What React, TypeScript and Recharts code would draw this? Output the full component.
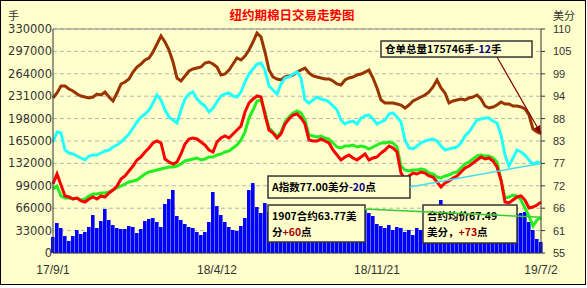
import React from 'react';
import {
  ComposedChart,
  Bar,
  Line,
  XAxis,
  YAxis,
  CartesianGrid,
  ReferenceLine,
  ReferenceArea,
} from 'recharts';

// x axis: one point per ~3 trading days, labels at these indices
const dateLabels = ['17/9/1', '18/4/12', '18/11/21', '19/7/2'];
const dateTickIdx = [0, 41, 81, 122];

const volumeTicks = [0, 33000, 66000, 99000, 132000, 165000, 198000, 231000, 264000, 297000, 330000];
const priceTicks = [55, 60.5, 66, 71.5, 77, 82.5, 88, 93.5, 99, 104.5, 110];

// 成交量 (手)
const volume = [
  23600, 44200, 36800, 25000, 17700, 25000, 33900, 28000, 30900, 38300,
  56000, 36800, 47100, 64800, 48600, 41200, 36800, 35400, 35400, 39800,
  38300, 29500, 35400, 47100, 50100, 51600, 45700, 38300, 72200, 79600,
  92800, 54500, 48600, 42700, 38300, 36800, 30900, 26500, 30900, 45700,
  89900, 69200, 56000, 45700, 38300, 33900, 32400, 39800, 51600, 92800,
  103100, 67800, 58900, 73700, 60400, 51600, 57500, 48600, 39800, 45700,
  54500, 63300, 70700, 56000, 47100, 39800, 42700, 51600, 60400, 48600,
  38300, 42700, 54500, 47100, 36800, 41200, 50100, 57500, 63300, 58900,
  54500, 42700, 39800, 36800, 41200, 33900, 38300, 36800, 30900, 33900,
  26500, 36800, 33900, 39800, 36800, 42700, 45700, 78100, 45700, 39800,
  36800, 41200, 42700, 38300, 45700, 42700, 39800, 45700, 50100, 42700,
  41200, 47100, 53000, 57500, 56000, 60400, 57500, 58900, 60400, 45700,
  33900, 20600, 16200,
];

// 仓单总量 (手)
const stocks = [
  228300, 235700, 246000, 246000, 241600, 238700, 234200, 231300, 229800, 228300,
  229800, 234200, 232800, 237200, 229800, 223900, 235700, 249000, 251900, 256300,
  266600, 274000, 278400, 284300, 287300, 296100, 307900, 319700, 310800, 299100,
  281400, 257800, 253400, 260800, 268100, 271100, 272500, 274000, 279900, 281400,
  278400, 274000, 262200, 263700, 269600, 278400, 287300, 284300, 290200, 299100,
  310800, 324100, 318200, 296100, 269600, 259300, 256300, 254900, 259300, 260800,
  262200, 266600, 269600, 272500, 265200, 260800, 259300, 257800, 256300, 256300,
  253400, 249000, 247500, 254900, 257800, 259300, 262200, 263700, 266600, 269600,
  257800, 243100, 225400, 221000, 221000, 221000, 219500, 218000, 213600, 218000,
  223900, 226900, 229800, 232800, 237200, 244600, 254900, 243100, 235700, 221000,
  223900, 225400, 226900, 225400, 228300, 229800, 232800, 226900, 216600, 213600,
  215100, 218000, 222500, 219500, 219500, 216600, 216600, 215100, 212100, 203300,
  182700, 178300, 175746,
];

// A指数 (美分)
const indexA = [
  82.25, 84.71, 84.46, 80.29, 79.55, 79.31, 78.82, 78.33, 77.84, 78.82,
  79.06, 79.06, 79.55, 80.05, 80.29, 81.03, 81.52, 82.25, 83.24, 84.22,
  85.69, 87.17, 88.39, 89.13, 90.11, 91.83, 93.8, 92.57, 90.11, 88.39,
  87.66, 86.92, 90.11, 92.81, 94.04, 94.53, 92.81, 91.83, 91.09, 89.62,
  90.6, 92.08, 93.55, 94.04, 94.29, 93.55, 93.3, 94.53, 96.99, 98.95,
  100.18, 101.41, 101.65, 99.93, 96.01, 95.02, 94.04, 96.5, 97.97, 98.22,
  98.95, 99.44, 97.97, 92.57, 91.83, 92.57, 93.3, 92.81, 92.57, 92.08,
  91.09, 90.11, 87.66, 86.67, 87.17, 87.41, 86.67, 88.15, 88.64, 88.88,
  87.9, 86.67, 87.17, 87.66, 89.13, 89.38, 88.39, 87.17, 82.75, 80.78,
  80.54, 81.27, 82.01, 82.5, 82.75, 82.99, 82.5, 81.27, 80.29, 80.54,
  80.78, 81.03, 82.01, 83.73, 84.71, 86.18, 87.66, 87.9, 88.15, 88.15,
  87.41, 86.92, 83.97, 79.06, 76.36, 78.33, 80.29, 79.8, 79.06, 77.84,
  76.85, 77.34, 77.0,
];

// 合约均价 (美分)
const avgPrice = [
  71.94, 74.4, 71.7, 69.0, 68.75, 68.26, 68.5, 67.77, 67.52, 68.26,
  68.75, 68.26, 69.0, 68.75, 69.73, 70.47, 71.45, 73.17, 73.91, 75.13,
  76.36, 77.84, 78.57, 79.8, 80.78, 82.01, 82.5, 82.01, 78.08, 77.34,
  76.85, 77.34, 79.31, 81.76, 82.99, 83.24, 82.99, 82.25, 81.52, 80.29,
  79.8, 82.25, 83.24, 83.73, 83.24, 84.22, 85.2, 86.18, 89.62, 91.83,
  92.81, 93.55, 93.3, 88.88, 85.2, 84.46, 83.24, 84.22, 86.67, 87.9,
  88.88, 89.13, 88.15, 86.67, 82.75, 82.5, 82.5, 82.99, 82.5, 82.01,
  80.29, 79.06, 77.84, 78.57, 79.06, 78.33, 77.84, 78.57, 79.31, 77.84,
  78.33, 78.57, 79.55, 80.29, 81.27, 80.78, 79.8, 74.64, 73.17, 73.91,
  74.64, 74.4, 74.89, 74.64, 73.91, 73.66, 72.43, 71.21, 72.19, 72.68,
  73.42, 73.91, 74.89, 75.87, 76.36, 77.1, 77.84, 78.57, 78.08, 78.33,
  77.59, 76.12, 72.92, 67.52, 67.28, 68.01, 68.75, 69.0, 68.01, 66.05,
  66.29, 66.79, 67.49,
];

// 1907合约 (美分)
const contract1907 = [
  70.71, 71.45, 69.0, 68.5, 68.5, 68.26, 68.5, 68.01, 68.26, 69.0,
  69.49, 69.49, 69.73, 69.73, 69.98, 70.47, 70.96, 71.45, 71.94, 72.43,
  72.68, 72.92, 73.66, 74.4, 74.89, 75.13, 75.38, 75.63, 75.87, 76.12,
  76.12, 76.36, 76.85, 77.59, 77.84, 78.08, 78.33, 77.84, 78.08, 78.57,
  78.57, 79.06, 79.31, 79.8, 80.05, 80.78, 81.52, 82.75, 84.71, 88.15,
  90.11, 92.32, 92.57, 89.62, 85.69, 84.71, 83.48, 84.71, 87.17, 88.39,
  89.38, 89.87, 89.38, 87.66, 83.97, 83.73, 83.48, 83.73, 83.24, 82.99,
  82.01, 81.03, 80.78, 81.27, 81.27, 81.52, 81.03, 81.27, 81.03, 80.54,
  81.03, 81.52, 82.01, 82.01, 82.25, 82.01, 81.03, 76.36, 75.38, 75.13,
  75.38, 75.38, 75.63, 75.38, 74.64, 74.4, 73.66, 73.42, 73.91, 74.15,
  74.64, 74.89, 75.87, 76.85, 77.34, 78.08, 78.82, 79.06, 78.82, 78.82,
  78.33, 77.34, 72.92, 68.5, 68.75, 69.24, 69.0, 68.01, 66.05, 64.08,
  61.63, 63.1, 63.77,
];

const rows = volume.map((v, i) => ({
  i,
  volume: v,
  stocks: stocks[i],
  indexA: indexA[i],
  avgPrice: avgPrice[i],
  c1907: contract1907[i],
}));

const last = rows.length - 1;

type Seg = { t: string; c: string };

const BLACK = '#000';
const NAVY = '#000080';
const DARKRED = '#aa0000';
const CJK = '"Noto Sans CJK SC", sans-serif';

function noteShape(lines: Seg[][]) {
  return (props: any) => {
    const { x, y, width, height } = props;
    return (
      <g>
        <rect x={x} y={y} width={width} height={height} fill="#ffffcc" stroke="#333" strokeWidth={1.5} />
        {lines.map((segs, k) => (
          <text
            key={k}
            x={x + 4}
            y={lines.length === 1 ? y + height / 2 + 4 : y + 15 + k * 15.5}
            fontSize={10.5}
            fontWeight="bold"
            fontFamily={CJK}
          >
            {segs.map((s, j) => (
              <tspan key={j} fill={s.c}>
                {s.t}
              </tspan>
            ))}
          </text>
        ))}
      </g>
    );
  };
}

function ArrowLine(props: any) {
  const { x1, y1, x2, y2 } = props;
  const a = Math.atan2(y2 - y1, x2 - x1);
  const len = 8;
  const w = 3.5;
  const bx = x2 - len * Math.cos(a);
  const by = y2 - len * Math.sin(a);
  const pts = [
    `${x2},${y2}`,
    `${bx + w * Math.sin(a)},${by - w * Math.cos(a)}`,
    `${bx - w * Math.sin(a)},${by + w * Math.cos(a)}`,
  ].join(' ');
  return (
    <g>
      <line x1={x1} y1={y1} x2={bx} y2={by} stroke="#800000" strokeWidth={1.2} />
      <polygon points={pts} fill="#800000" />
    </g>
  );
}

const tickFont = { fontSize: 11.5, fill: '#333', fontFamily: '"DejaVu Sans", sans-serif' };

export default function App() {
  return (
    <div
      style={{
        position: 'absolute',
        left: 0,
        top: 0,
        width: 587,
        height: 288,
        background: '#fff',
        overflow: 'hidden',
      }}
    >
      <div
        style={{
          position: 'absolute',
          left: 0,
          top: 0,
          width: 584,
          height: 283,
          border: '1px solid #000',
          background: '#ffffcc',
        }}
      />
      <div
        style={{
          position: 'absolute',
          left: 0,
          top: 8,
          width: 584,
          textAlign: 'center',
          color: '#ff0000',
          fontFamily: CJK,
          fontWeight: 'bold',
          fontSize: 12.5,
          lineHeight: '14px',
        }}
      >
        纽约期棉日交易走势图
      </div>
      <div
        style={{
          position: 'absolute',
          left: 8,
          top: 8,
          color: '#333',
          fontFamily: CJK,
          fontSize: 11,
          lineHeight: '14px',
        }}
      >
        手
      </div>
      <div
        style={{
          position: 'absolute',
          left: 553,
          top: 8,
          color: '#333',
          fontFamily: CJK,
          fontSize: 11,
          lineHeight: '14px',
        }}
      >
        美分
      </div>
      <div style={{ position: 'absolute', left: 0, top: 0 }}>
        <ComposedChart width={587} height={288} data={rows} margin={{ top: 29, right: 0, bottom: 0, left: 0 }}>
          <CartesianGrid yAxisId="left" vertical={false} stroke="#b4b4b4" strokeDasharray="4 3" />
          <XAxis
            dataKey="i"
            type="number"
            domain={[0, last]}
            ticks={dateTickIdx}
            tickFormatter={(v: number) => dateLabels[dateTickIdx.indexOf(v)] ?? ''}
            height={35}
            tickLine={false}
            tickSize={0}
            tickMargin={12}
            axisLine={{ stroke: '#333' }}
            tick={{ fontSize: 12, fill: '#333', fontFamily: '"Liberation Sans", sans-serif' }}
          />
          <YAxis
            yAxisId="left"
            orientation="left"
            width={53}
            domain={[0, 330000]}
            ticks={volumeTicks}
            interval={0}
            tickLine={false}
            tickSize={0}
            tickMargin={1}
            axisLine={{ stroke: '#333' }}
            tick={tickFont}
          />
          <YAxis
            yAxisId="right"
            orientation="right"
            width={46}
            domain={[55, 110]}
            ticks={priceTicks}
            interval={0}
            tickFormatter={(v: number) => String(Math.round(v))}
            tickSize={4}
            tickMargin={8}
            tickLine={{ stroke: '#333' }}
            axisLine={{ stroke: '#333' }}
            tick={{ fontSize: 11, fill: '#333', fontFamily: '"Liberation Sans", sans-serif' }}
          />
          <ReferenceLine yAxisId="left" y={330000} stroke="#888" />
          <Bar yAxisId="left" dataKey="volume" fill="#0000ff" barSize={5} isAnimationActive={false} />
          <Line
            yAxisId="left"
            dataKey="stocks"
            stroke="#993300"
            strokeWidth={3}
            dot={false}
            type="linear"
            isAnimationActive={false}
          />
          <Line
            yAxisId="right"
            dataKey="indexA"
            stroke="#22ffff"
            strokeWidth={3}
            dot={false}
            type="linear"
            isAnimationActive={false}
          />
          <Line
            yAxisId="right"
            dataKey="c1907"
            stroke="#22ee22"
            strokeWidth={3}
            dot={false}
            type="linear"
            isAnimationActive={false}
          />
          <Line
            yAxisId="right"
            dataKey="avgPrice"
            stroke="#ff0000"
            strokeWidth={3}
            dot={false}
            type="linear"
            isAnimationActive={false}
          />
          <ReferenceArea
            yAxisId="left"
            x1={82}
            x2={119.75}
            y1={288700}
            y2={312300}
            zIndex={1500}
            shape={noteShape([[{ t: '仓单总量175746手', c: BLACK }, { t: '-12', c: NAVY }, { t: '手', c: BLACK }]])}
          />
          <ReferenceArea
            yAxisId="left"
            x1={53.75}
            x2={89.25}
            y1={81000}
            y2={113400}
            zIndex={1500}
            shape={noteShape([[{ t: 'A指数77.00美分', c: BLACK }, { t: '-20', c: NAVY }, { t: '点', c: BLACK }]])}
          />
          <ReferenceArea
            yAxisId="left"
            x1={53.75}
            x2={78}
            y1={16200}
            y2={70700}
            zIndex={1500}
            shape={noteShape([
              [{ t: '1907合约63.77美', c: BLACK }],
              [{ t: '分', c: BLACK }, { t: '+60', c: DARKRED }, { t: '点', c: BLACK }],
            ])}
          />
          <ReferenceArea
            yAxisId="left"
            x1={92.5}
            x2={116}
            y1={14700}
            y2={70700}
            zIndex={1500}
            shape={noteShape([
              [{ t: '合约均价67.49', c: BLACK }],
              [{ t: '美分，', c: BLACK }, { t: '+73', c: DARKRED }, { t: '点', c: BLACK }],
            ])}
          />
          <ReferenceLine
            yAxisId="left"
            segment={[
              { x: 111, y: 288700 },
              { x: last, y: stocks[last] },
            ]}
            zIndex={1600}
            shape={ArrowLine}
          />
          <ReferenceLine
            yAxisId="right"
            segment={[
              { x: 89.25, y: 71.2 },
              { x: last, y: indexA[last] },
            ]}
            stroke="#44ddee"
            strokeWidth={1.5}
            zIndex={1600}
          />
          <ReferenceLine
            yAxisId="right"
            segment={[
              { x: 78, y: 65.8 },
              { x: last, y: contract1907[last] },
            ]}
            stroke="#33cc33"
            strokeWidth={1.5}
            zIndex={1600}
          />
        </ComposedChart>
      </div>
    </div>
  );
}
